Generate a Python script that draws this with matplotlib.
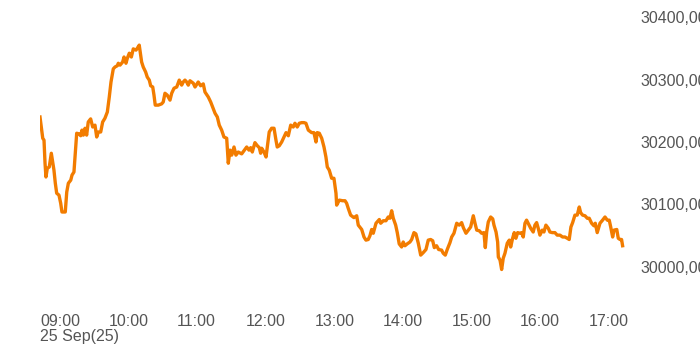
import matplotlib
matplotlib.use("Agg")
import matplotlib.pyplot as plt
from matplotlib.ticker import FuncFormatter

# minutes after 09:00 and index level
minutes = [0, 2.4, 3.5, 4.4, 5.2, 6.4, 8.1, 9.9, 11.1, 12.2, 13.4, 14.6, 16.6, 18.1, 19.2, 22.1,
           23.4, 24.8, 26.9, 28.0, 29.7, 30.9, 32.1, 34.1, 35.6, 36.7, 37.9, 39.4, 40.8, 42.2,
           44.3, 46.1, 48.1, 49.6, 51.0, 53.1, 54.8, 56.8, 58.9, 60.6, 62.1, 64.1, 65.6, 67.6,
           68.5, 70.0, 72.3, 73.5, 75.2, 76.4, 78.1, 79.9, 81.6, 84.0, 85.1, 86.8, 88.9, 90.3,
           92.4, 93.8, 95.6, 96.8, 98.6, 99.7, 100.8, 103.5, 106.4, 107.8, 109.3, 111.3, 113.7,
           115.2, 117.2, 119.6, 121.8, 123.9, 125.3, 126.8, 128.3, 129.7, 131.2, 134.1, 135.6,
           138.4, 140.5, 142.8, 144.3, 147.2, 149.3, 151.0, 153.1, 155.1, 156.8, 158.9, 160.9,
           163.3, 164.7, 166.2, 167.7, 169.7, 171.4, 173.4, 176.4, 178.4, 180.8, 182.8, 184.3,
           185.7, 188.0, 190.1, 191.8, 193.0, 193.9, 195.9, 197.7, 198.8, 200.5, 202.6, 204.7,
           206.4, 207.5, 209.3, 211.4, 213.4, 215.2, 217.2, 219.3, 221.5, 223.0, 225.0, 226.8,
           228.9, 230.9, 232.6, 234.7, 237.6, 239.6, 241.4, 242.5, 244.3, 246.4, 248.4, 250.1,
           251.3, 253.0, 255.1, 257.1, 258.9, 259.5, 261.8, 264.7, 266.8, 268.2, 269.6, 271.7,
           274.6, 277.0, 278.4, 281.4, 283.4, 285.1, 287.1, 288.6, 290.1, 291.5, 293.9, 296.8,
           298.0, 300.3, 302.6, 304.6, 306.1, 307.6, 309.0, 311.1, 312.5, 314.2, 316.3, 317.7,
           319.2, 321.2, 323.6, 325.1, 327.1, 328.8, 330.9, 333.0, 335.2, 337.6, 339.6, 341.7,
           343.5, 344.9, 346.9, 348.7, 351.3, 352.7, 354.5, 356.2, 358.6, 360.1, 362.1, 364.5,
           366.7, 368.8, 370.3, 372.6, 374.6, 376.7, 379.0, 380.5, 382.0, 384.2, 386.3, 388.3,
           389.5, 390.7, 392.1, 394.2, 396.0, 397.1, 398.9, 400.3, 400.9, 402.4, 403.8, 405.2,
           406.7, 408.7, 410.5, 411.7, 413.4, 414.8, 416.3, 417.8, 419.8, 421.3, 422.7, 424.2,
           425.6, 427.0, 429.2, 431.4, 432.9, 434.4, 435.8, 437.3, 439.3, 440.8, 442.5, 444.6,
           446.0, 448.1, 450.4, 452.4, 454.8, 457.1, 459.2, 461.2, 462.9, 464.4, 465.9, 467.9,
           469.9, 471.7, 472.9, 474.6, 476.7, 478.7, 480.4, 482.5, 484.5, 485.7, 487.4, 489.8,
           492.1, 494.2, 496.2, 497.9, 499.2, 500.9, 502.1, 504.5, 505.8, 507.3, 508.7, 509.6]

prices = [30240, 30206, 30203, 30166, 30144, 30158, 30160, 30182, 30168, 30155, 30134, 30118,
          30115, 30102, 30088, 30088, 30120, 30134, 30139, 30147, 30152, 30182, 30214, 30213,
          30210, 30219, 30211, 30222, 30211, 30232, 30237, 30224, 30227, 30208, 30216, 30216,
          30232, 30238, 30248, 30272, 30296, 30317, 30320, 30322, 30326, 30323, 30328, 30336,
          30326, 30334, 30342, 30336, 30349, 30347, 30350, 30355, 30328, 30320, 30312, 30304,
          30299, 30290, 30288, 30275, 30259, 30259, 30261, 30264, 30278, 30275, 30267, 30278,
          30286, 30288, 30299, 30291, 30296, 30299, 30296, 30291, 30298, 30294, 30288, 30296,
          30290, 30293, 30280, 30272, 30264, 30256, 30246, 30240, 30227, 30219, 30208, 30206,
          30166, 30187, 30179, 30192, 30179, 30184, 30181, 30186, 30192, 30187, 30191, 30184,
          30199, 30194, 30191, 30182, 30190, 30184, 30176, 30192, 30216, 30222, 30222, 30203,
          30192, 30194, 30200, 30208, 30215, 30210, 30227, 30224, 30230, 30224, 30230, 30231,
          30231, 30230, 30219, 30215, 30215, 30200, 30215, 30214, 30206, 30192, 30176, 30160,
          30155, 30142, 30142, 30118, 30099, 30107, 30106, 30106, 30102, 30094, 30083, 30079,
          30082, 30067, 30060, 30048, 30043, 30044, 30050, 30060, 30054, 30070, 30076, 30070,
          30074, 30074, 30080, 30078, 30090, 30078, 30067, 30055, 30037, 30032, 30040, 30034,
          30037, 30040, 30044, 30055, 30053, 30038, 30019, 30023, 30028, 30043, 30044, 30042,
          30031, 30034, 30028, 30027, 30022, 30019, 30028, 30039, 30048, 30054, 30070, 30067,
          30071, 30063, 30054, 30059, 30064, 30082, 30070, 30059, 30058, 30054, 30055, 30031,
          30056, 30072, 30080, 30077, 30067, 30056, 30040, 30016, 30011, 29996, 30014, 30022,
          30038, 30043, 30032, 30046, 30055, 30046, 30055, 30054, 30055, 30048, 30070, 30075,
          30070, 30062, 30056, 30067, 30071, 30062, 30051, 30059, 30056, 30067, 30062, 30056,
          30055, 30055, 30051, 30051, 30048, 30048, 30046, 30044, 30064, 30071, 30083, 30083,
          30096, 30087, 30083, 30082, 30078, 30078, 30070, 30066, 30070, 30055, 30070, 30075,
          30080, 30075, 30075, 30064, 30048, 30059, 30060, 30046, 30044, 30044, 30034]

tick_minutes = [0, 60, 120, 180, 240, 300, 360, 420, 480]
tick_labels = ["09:00", "10:00", "11:00", "12:00", "13:00",
               "14:00", "15:00", "16:00", "17:00"]
date_label = "25 Sep(25)"
y_ticks = [30000, 30100, 30200, 30300, 30400]

plt.rcParams['font.family'] = ['Liberation Sans', 'DejaVu Sans']

fig = plt.figure(figsize=(7, 3.5), dpi=100)
ax = fig.add_axes([40 / 700, 55 / 350, 585 / 700, 285 / 350])

ax.plot(minutes, prices, color='#f27c00', linewidth=2.4, solid_joinstyle='round')

ax.set_xlim(0, 511.7)
ax.set_ylim(29955.2, 30411.2)

ax.set_xticks(tick_minutes)
ax.set_xticklabels(tick_labels, ha='left')
ax.yaxis.tick_right()
ax.set_yticks(y_ticks)
ax.yaxis.set_major_formatter(FuncFormatter(lambda v, p: f"{v:.2f}".replace('.', ',')))

ax.tick_params(axis='x', length=0, pad=13.5, labelsize=11.5, labelcolor='#555555')
ax.tick_params(axis='y', length=0, pad=11, labelsize=11.5, labelcolor='#555555')
for lab in ax.get_yticklabels():
    lab.set_ha('left')

# date under the first time label
ax.text(0, -42 / 285, date_label, transform=ax.get_xaxis_transform(),
        ha='left', va='center', fontsize=11.5, color='#555555')

for s in ax.spines.values():
    s.set_visible(False)

fig.savefig("out.png", dpi=100)
